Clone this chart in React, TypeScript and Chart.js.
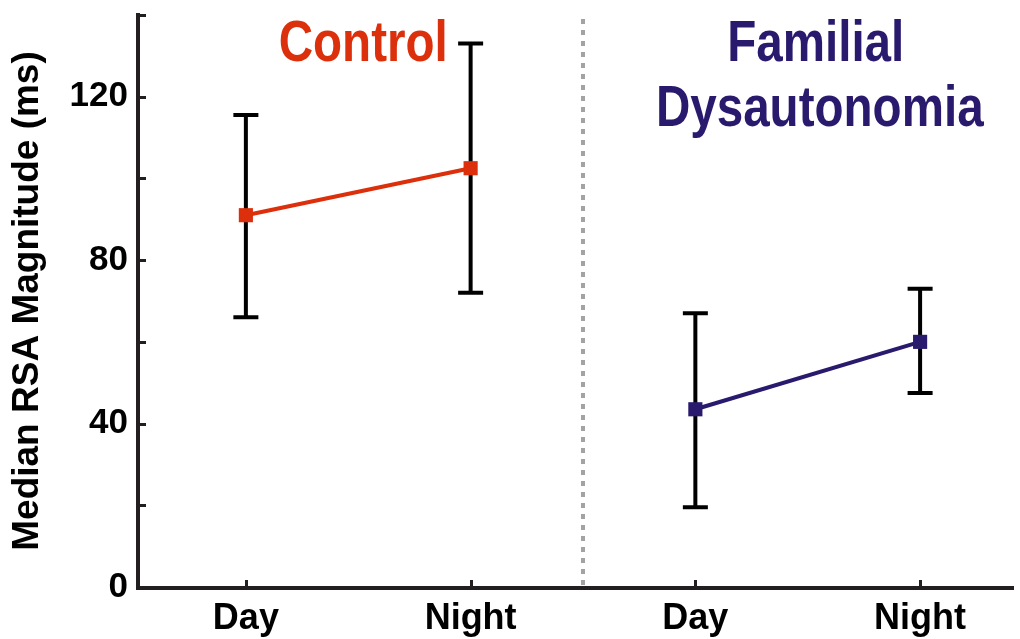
import React, { useEffect, useRef } from 'react';
import { Chart, registerables } from 'chart.js';

Chart.register(...registerables);

// ---- data ----
const categories = ['Day', 'Night', 'Day', 'Night'];
const groupNames = ['Control', 'Familial Dysautonomia'];
const controlMean = [91, 102.5];
const controlLow = [66, 72];
const controlHigh = [115.5, 133];
const fdMean = [43.5, 60];
const fdLow = [19.5, 47.5];
const fdHigh = [67, 73];
const yTickValues = [0, 20, 40, 60, 80, 100, 120, 140];
const yLabelValues = [0, 40, 80, 120];

const RED = '#dc300c';
const NAVY = '#2a1a6e';
const AXIS = '#231f20';
const FONT = '"Liberation Sans", Arial, Helvetica, sans-serif';

const decor = {
  id: 'decor',
  beforeDatasetsDraw(chart: any) {
    const { ctx, chartArea, scales } = chart;
    const xs = scales.x;
    const ys = scales.y;
    ctx.save();
    // divider
    const dx = xs.getPixelForValue(2.5);
    ctx.strokeStyle = '#a3a3a3';
    ctx.lineWidth = 4;
    ctx.setLineDash([5, 6]);
    ctx.beginPath();
    ctx.moveTo(dx, chartArea.top + 4);
    ctx.lineTo(dx, chartArea.bottom);
    ctx.stroke();
    ctx.setLineDash([]);
    // error bars
    const bars: [number, number, number][] = [];
    controlMean.forEach((_, i) => bars.push([i + 1, controlLow[i], controlHigh[i]]));
    fdMean.forEach((_, i) => bars.push([i + 3, fdLow[i], fdHigh[i]]));
    ctx.strokeStyle = '#000';
    ctx.lineWidth = 4;
    ctx.lineCap = 'butt';
    bars.forEach(([xv, lo, hi]) => {
      const x = xs.getPixelForValue(xv);
      const y1 = ys.getPixelForValue(lo);
      const y2 = ys.getPixelForValue(hi);
      ctx.beginPath();
      ctx.moveTo(x, y1);
      ctx.lineTo(x, y2);
      ctx.moveTo(x - 12.5, y1);
      ctx.lineTo(x + 12.5, y1);
      ctx.moveTo(x - 12.5, y2);
      ctx.lineTo(x + 12.5, y2);
      ctx.stroke();
    });
    ctx.restore();
  },
  afterDraw(chart: any) {
    const { ctx, chartArea, scales } = chart;
    const xs = scales.x;
    const ys = scales.y;
    ctx.save();
    ctx.strokeStyle = AXIS;
    ctx.lineWidth = 4;
    // axes
    ctx.beginPath();
    ctx.moveTo(chartArea.left, chartArea.top - 2);
    ctx.lineTo(chartArea.left, chartArea.bottom + 1);
    ctx.lineTo(chartArea.right + 4, chartArea.bottom + 1);
    ctx.stroke();
    // y ticks (inward)
    ctx.lineWidth = 3;
    yTickValues.forEach((v) => {
      const y = Math.round(ys.getPixelForValue(v)) + 0.5;
      if (v === 0) return;
      ctx.beginPath();
      ctx.moveTo(chartArea.left, y);
      ctx.lineTo(chartArea.left + 8, y);
      ctx.stroke();
    });
    // x ticks (inward)
    [1, 2, 3, 4].forEach((v) => {
      const x = Math.round(xs.getPixelForValue(v)) + 0.5;
      ctx.beginPath();
      ctx.moveTo(x, chartArea.bottom);
      ctx.lineTo(x, chartArea.bottom - 7);
      ctx.stroke();
    });
    // group titles (condensed bold)
    const drawTitle = (text: string, cx: number, baseline: number, color: string) => {
      ctx.save();
      ctx.translate(cx, baseline);
      ctx.scale(0.82, 1);
      ctx.font = `bold 58px ${FONT}`;
      ctx.fillStyle = color;
      ctx.textAlign = 'center';
      ctx.textBaseline = 'alphabetic';
      ctx.fillText(text, 0, 0);
      ctx.restore();
    };
    const cCtrl = xs.getPixelForValue(1.5) + 5;
    const cFd = xs.getPixelForValue(3.5) + 8;
    drawTitle(groupNames[0], cCtrl, 61, RED);
    const [fw1, fw2] = groupNames[1].split(' ');
    drawTitle(fw1, cFd, 61, NAVY);
    drawTitle(fw2, cFd + 4, 126, NAVY);
    ctx.restore();
  },
};

export default function App() {
  const ref = useRef<HTMLCanvasElement | null>(null);
  useEffect(() => {
    document.body.style.margin = '0';
    const canvas = ref.current;
    if (!canvas) return;
    const chart = new Chart(canvas, {
      type: 'line',
      data: {
        datasets: [
          {
            label: groupNames[0],
            data: controlMean.map((y, i) => ({ x: i + 1, y })),
            borderColor: RED,
            backgroundColor: RED,
            borderWidth: 4,
            pointStyle: 'rect',
            pointRadius: 10,
            pointBorderWidth: 0,
            pointBackgroundColor: RED,
          },
          {
            label: groupNames[1],
            data: fdMean.map((y, i) => ({ x: i + 3, y })),
            borderColor: NAVY,
            backgroundColor: NAVY,
            borderWidth: 4,
            pointStyle: 'rect',
            pointRadius: 10,
            pointBorderWidth: 0,
            pointBackgroundColor: NAVY,
          },
        ],
      },
      options: {
        responsive: false,
        animation: false,
        layout: { padding: { top: 15, right: 8, left: 0, bottom: 0 } },
        plugins: { legend: { display: false }, tooltip: { enabled: false } },
        scales: {
          x: {
            type: 'linear',
            min: 0.52,
            max: 4.4,
            grid: { display: false, drawTicks: false },
            border: { display: false },
            afterBuildTicks: (s: any) => {
              s.ticks = [1, 2, 3, 4].map((v) => ({ value: v }));
            },
            afterFit: (s: any) => {
              s.height = 52;
              s.paddingLeft = 0;
              s.paddingRight = 0;
            },
            ticks: {
              autoSkip: false,
              maxRotation: 0,
              padding: 10,
              color: '#000',
              font: { family: FONT, size: 36, weight: 'bold' },
              callback: (v: any) => categories[Number(v) - 1] ?? '',
            },
          },
          y: {
            type: 'linear',
            min: 0,
            max: 140,
            grid: { display: false, drawTicks: false },
            border: { display: false },
            afterBuildTicks: (s: any) => {
              s.ticks = yTickValues.map((v) => ({ value: v }));
            },
            afterFit: (s: any) => {
              s.width = 138;
              s.paddingTop = 0;
              s.paddingBottom = 0;
            },
            ticks: {
              padding: 10,
              color: '#000',
              font: { family: FONT, size: 35, weight: 'bold' },
              callback: (v: any) => (yLabelValues.includes(Number(v)) ? String(v) : ''),
            },
            title: {
              display: true,
              text: 'Median RSA Magnitude (ms)',
              color: '#000',
              font: { family: FONT, size: 37, weight: 'bold' },
              padding: { top: 6, bottom: 0 },
            },
          },
        },
      },
      plugins: [decor],
    } as any);
    return () => chart.destroy();
  }, []);
  return <canvas ref={ref} width={1020} height={639} style={{ display: 'block' }} />;
}
